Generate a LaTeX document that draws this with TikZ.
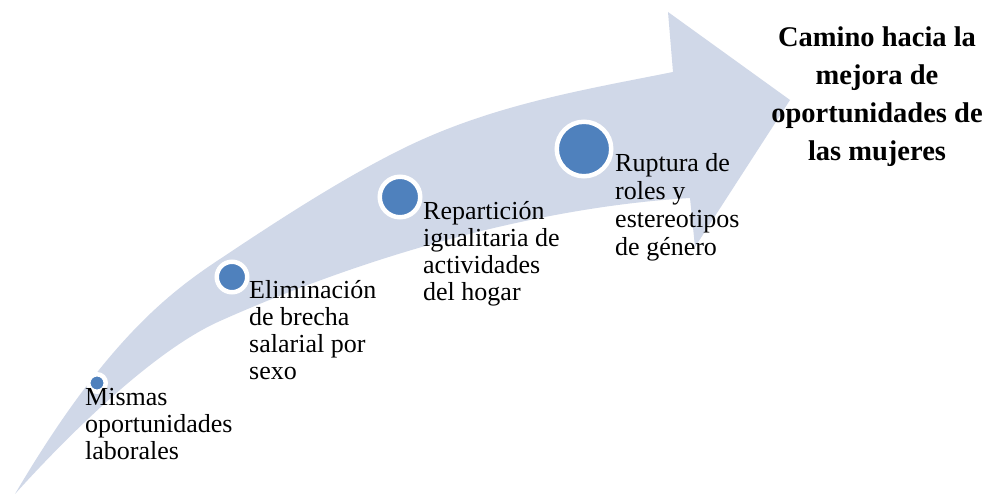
\documentclass[tikz,border=0pt]{standalone}
\usepackage{fontspec}
\setmainfont{Liberation Serif}
\definecolor{band}{RGB}{208,216,232}
\definecolor{dotblue}{RGB}{79,129,189}
\begin{document}
\begin{tikzpicture}[x=1bp,y=-1bp,
  dotnode/.style={circle, fill=dotblue, draw=white, line width=4.5bp, inner sep=0pt, minimum size=#1},
  lbl/.style={anchor=base west, inner sep=0pt, font=\fontsize{26bp}{27bp}\selectfont},
  ttl/.style={anchor=base, inner sep=0pt, font=\bfseries\fontsize{28.5bp}{38bp}\selectfont}]
\path[fill=white,use as bounding box] (0,0) rectangle (990,494);
\fill[band] (15,494) .. controls (105,341) and (170,292) .. (220,259)
  .. controls (280,219) and (340,180) .. (400,150)
  .. controls (490,105) and (583,90) .. (673,72)
  -- (668,12) -- (790,100) -- (695,247) -- (690,198)
  .. controls (540,207) and (370,254) .. (220,321)
  .. controls (150,352) and (60,444) .. (15,494) -- cycle;
\node[dotnode=17.5bp] (d1) at (97,383) {};
\node[dotnode=30.5bp] (d2) at (232,277) {};
\node[dotnode=40.5bp] (d3) at (400,197) {};
\node[dotnode=54.5bp] (d4) at (584,149) {};
\node[lbl] (t1) at (85,405) {\begin{tabular}[t]{@{}l@{}}Mismas\\oportunidades\\laborales\end{tabular}};
\node[lbl] (t2) at (249,299) {\begin{tabular}[t]{@{}l@{}}Eliminación\\de brecha\\salarial por\\sexo\end{tabular}};
\node[lbl] (t3) at (423,220) {\begin{tabular}[t]{@{}l@{}}Repartición\\igualitaria de\\actividades\\del hogar\end{tabular}};
\node[lbl, font=\fontsize{26bp}{28bp}\selectfont] (t4) at (615,172) {\begin{tabular}[t]{@{}l@{}}Ruptura de\\roles y\\estereotipos\\de género\end{tabular}};
\node[ttl] (title) at (877,47) {\begin{tabular}[t]{@{}c@{}}Camino hacia la\\mejora de\\oportunidades de\\las mujeres\end{tabular}};
\end{tikzpicture}
\end{document}
